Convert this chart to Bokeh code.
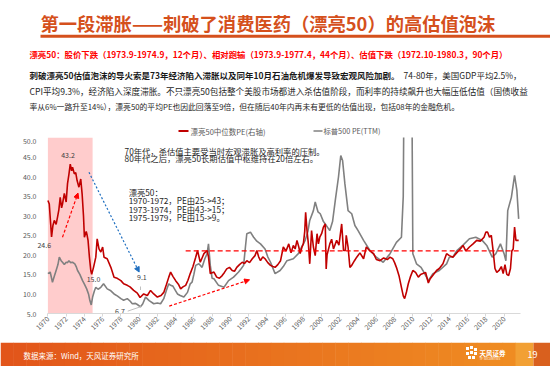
import math
from bokeh.plotting import figure
from bokeh.models import (Range1d, FixedTicker, Arrow, NormalHead,
                          BoxAnnotation, PrintfTickFormatter)
from bokeh.layouts import column
from bokeh.embed import file_html
from bokeh.resources import INLINE
from bokeh.core.properties import value

FONT = "Noto Sans CJK SC"

# ---------------- data ----------------
red_years = [
    1970.0, 1970.15, 1970.3, 1970.4, 1970.55, 1970.7, 1970.9, 1971.05, 1971.2, 1971.35,
    1971.5, 1971.6, 1971.8, 1972.0, 1972.15, 1972.3, 1972.45, 1972.6, 1972.7, 1972.9,
    1973.05, 1973.2, 1973.4, 1973.6, 1973.75, 1973.9, 1974.0, 1974.2, 1974.3, 1974.4,
    1974.55, 1974.7, 1974.8, 1975.0, 1975.25, 1975.4, 1975.6, 1975.8, 1976.0, 1976.15,
    1976.5, 1976.9, 1977.25, 1977.6, 1978.0, 1978.3, 1978.7, 1979.0, 1979.4, 1979.8,
    1980.1, 1980.5, 1980.9, 1981.25, 1981.6, 1982.0, 1982.4, 1982.7, 1983.0, 1983.25,
    1983.45, 1983.7, 1984.0, 1984.3, 1984.55, 1984.8, 1985.1, 1985.35, 1985.6, 1985.9,
    1986.2, 1986.4, 1986.7, 1987.1, 1987.45, 1987.6, 1987.8, 1988.2, 1988.5, 1988.8,
    1989.1, 1989.35, 1989.6, 1989.9, 1990.2, 1990.45, 1990.7, 1991.0, 1991.3, 1991.55,
    1991.8, 1992.1, 1992.4, 1992.7, 1992.9, 1993.1, 1993.3, 1993.55, 1993.8, 1994.1,
    1994.4, 1994.65, 1994.9, 1995.2, 1995.5, 1995.8, 1996.1, 1996.4, 1996.65, 1996.9,
    1997.1, 1997.3, 1997.5, 1997.65, 1997.85, 1998.0, 1998.15, 1998.25, 1998.4, 1998.55,
    1998.7, 1998.8, 1998.9, 1999.1, 1999.3, 1999.5, 1999.65, 1999.8, 2000.0, 2000.2,
    2000.4, 2000.5, 2000.6, 2000.9, 2001.1, 2001.3, 2001.65, 2001.9, 2002.2, 2002.4,
    2002.6, 2002.7, 2002.9, 2003.1, 2003.3, 2003.6, 2003.85, 2004.2, 2004.6, 2004.9,
    2005.3, 2005.7, 2006.0, 2006.4, 2006.8, 2007.2, 2007.5, 2007.8, 2008.0, 2008.2,
    2008.5, 2008.75, 2008.95, 2009.1, 2009.3, 2009.5, 2009.75, 2010.0, 2010.3, 2010.6,
    2010.85, 2011.1, 2011.4, 2011.7, 2011.9, 2012.2, 2012.6, 2012.9, 2013.3, 2013.7,
    2014.0, 2014.4, 2014.8, 2015.2, 2015.5, 2015.8, 2016.2, 2016.6, 2017.0, 2017.4,
    2017.8, 2018.0, 2018.2, 2018.4, 2018.6, 2018.8, 2019.0, 2019.2, 2019.45, 2019.7,
    2019.9, 2020.1, 2020.3, 2020.5, 2020.7, 2020.85, 2021.0, 2021.15, 2021.3, 2021.6,
]
red_pe = [
    33.9, 33.0, 28.0, 24.6, 27.5, 28.8, 27.8, 29.6, 31.5, 34.7,
    32.0, 33.0, 35.7, 33.5, 38.2, 40.5, 43.2, 41.5, 42.4, 40.7,
    41.0, 39.0, 37.3, 39.4, 35.6, 30.0, 24.5, 26.0, 25.0, 23.7,
    19.4, 16.0, 15.0, 16.8, 19.4, 24.1, 21.5, 20.7, 22.0, 19.4,
    19.0, 16.8, 14.3, 14.0, 13.4, 12.6, 12.2, 11.8, 10.9, 10.2,
    9.1, 10.0, 9.6, 10.9, 10.0, 9.2, 9.6, 10.4, 12.5, 14.3,
    15.6, 14.5, 13.4, 12.5, 11.3, 11.8, 12.2, 13.5, 15.2, 17.0,
    19.4, 21.1, 18.1, 20.3, 21.1, 19.5, 15.2, 15.6, 14.3, 14.0,
    14.7, 15.5, 16.4, 16.8, 16.0, 15.8, 16.8, 17.5, 18.1, 17.8,
    18.5, 18.0, 19.0, 19.8, 21.1, 19.5, 18.5, 19.5, 19.0, 18.0,
    17.3, 17.0, 16.8, 17.5, 18.5, 22.0, 21.0, 22.8, 20.5, 22.4,
    21.5, 23.7, 22.0, 20.3, 22.0, 22.8, 26.0, 30.9, 26.2, 22.8,
    17.7, 22.0, 26.2, 22.0, 19.8, 25.4, 22.8, 24.5, 25.4, 27.1,
    27.9, 16.4, 20.0, 22.8, 24.0, 21.5, 23.7, 22.5, 27.9, 21.1,
    21.1, 25.0, 22.0, 16.8, 17.3, 18.5, 19.4, 20.5, 19.0, 22.0,
    21.0, 20.3, 18.8, 18.5, 19.2, 18.8, 19.4, 19.0, 18.0, 16.8,
    14.5, 11.7, 9.5, 8.8, 10.5, 12.6, 14.5, 16.0, 15.5, 14.3,
    15.0, 15.2, 15.5, 12.8, 13.9, 14.8, 16.0, 16.5, 17.7, 20.3,
    19.8, 19.4, 20.5, 21.5, 22.4, 21.0, 22.0, 22.8, 23.7, 23.5,
    24.5, 25.8, 25.8, 24.5, 25.0, 21.0, 16.5, 15.5, 16.0, 17.0,
    15.2, 17.5, 15.0, 14.7, 16.5, 21.0, 21.5, 27.1, 23.7, 23.7,
]

gray_years = [
    1970.0, 1970.25, 1970.5, 1970.7, 1970.9, 1971.1, 1971.25, 1971.45, 1971.6, 1971.8,
    1972.0, 1972.15, 1972.3, 1972.5, 1972.7, 1972.95, 1973.1, 1973.25, 1973.5, 1973.8,
    1974.0, 1974.25, 1974.45, 1974.6, 1974.75, 1974.9, 1975.1, 1975.25, 1975.5, 1975.8,
    1976.1, 1976.5, 1976.9, 1977.25, 1977.6, 1978.0, 1978.3, 1978.7, 1979.0, 1979.25,
    1979.6, 1979.8, 1980.15, 1980.4, 1980.7, 1981.1, 1981.6, 1982.0, 1982.35, 1982.7,
    1983.0, 1983.25, 1983.45, 1983.7, 1984.0, 1984.2, 1984.5, 1984.9, 1985.3, 1985.6,
    1985.8, 1986.0, 1986.2, 1986.55, 1986.9, 1987.2, 1987.45, 1987.6, 1987.8, 1988.0,
    1988.2, 1988.7, 1989.3, 1989.8, 1990.35, 1990.9, 1991.2, 1991.45, 1991.65, 1991.8,
    1992.2, 1992.55, 1992.9, 1993.3, 1993.8, 1994.1, 1994.4, 1994.9, 1995.45, 1995.8,
    1996.2, 1996.9, 1997.45, 1997.8, 1998.2, 1998.5, 1998.7, 1999.1, 1999.3, 1999.6,
    1999.85, 2000.2, 2000.4, 2000.9, 2001.2, 2001.5, 2001.85, 2002.1, 2002.3, 2002.55,
    2002.9, 2003.3, 2003.65, 2004.0, 2004.6, 2005.3, 2006.0, 2006.75, 2007.5, 2008.2,
    2008.75, 2008.95, 2009.05, 2009.3, 2009.6, 2009.9, 2010.0, 2010.4, 2010.9, 2011.1,
    2011.7, 2012.2, 2012.9, 2013.7, 2014.0, 2014.4, 2014.8, 2015.5, 2016.2, 2016.9,
    2017.6, 2018.1, 2018.7, 2019.1, 2019.6, 2020.0, 2020.2, 2020.4, 2020.8, 2021.15,
    2021.4, 2021.6,
]
gray_pe = [
    15.2, 15.6, 13.0, 14.5, 16.0, 17.5, 19.4, 18.5, 18.1, 17.5,
    18.1, 18.0, 18.5, 18.0, 18.1, 17.7, 17.0, 16.0, 15.0, 13.4,
    12.5, 11.3, 10.0, 8.3, 7.2, 9.2, 10.8, 11.7, 11.2, 11.7,
    12.6, 11.3, 10.8, 10.0, 9.5, 8.8, 8.4, 8.8, 8.2, 7.5,
    7.6, 7.3, 6.7, 7.5, 9.2, 8.3, 7.5, 7.7, 7.5, 8.8,
    11.0, 12.6, 12.2, 12.0, 10.8, 10.0, 9.6, 9.2, 10.4, 12.6,
    13.0, 15.0, 17.3, 17.7, 16.8, 19.0, 20.3, 22.8, 17.3, 14.0,
    13.9, 12.2, 11.7, 13.4, 14.3, 15.6, 16.5, 17.3, 22.0, 25.4,
    25.8, 24.5, 23.5, 22.8, 21.5, 19.5, 18.1, 15.2, 16.0, 17.0,
    18.5, 19.0, 20.3, 22.0, 23.7, 26.0, 28.8, 31.3, 33.5, 31.0,
    30.5, 28.5, 27.9, 26.2, 28.5, 33.9, 39.9, 45.4, 44.1, 38.2,
    31.3, 30.5, 27.5, 26.2, 23.7, 21.1, 19.4, 18.1, 20.3, 23.2,
    24.5, 35.0, 70.0, 120.0, 100.0, 60.0, 20.3, 17.7, 16.8, 16.0,
    13.4, 15.2, 16.0, 17.7, 19.4, 19.5, 21.0, 22.5, 24.1, 24.5,
    23.7, 22.4, 19.4, 20.3, 22.8, 20.3, 18.5, 31.3, 34.7, 40.3,
    36.5, 29.2,
]
assert len(red_years) == len(red_pe) and len(gray_years) == len(gray_pe)

median_level = 21.0
median_span = [1985.1, 2021.6]
shade_span = [1970.0, 1974.9]
year_ticks = [1970, 1972, 1974, 1976, 1978, 1980, 1982, 1984, 1986, 1988, 1990,
              1992, 1994, 1996, 1998, 2000, 2002, 2004, 2006, 2008, 2010, 2012,
              2014, 2016, 2018, 2020]
pe_ticks = [5, 10, 15, 20, 25, 30, 35, 40, 45, 50]

TITLE = "第一段滞胀——刺破了消费医药（漂亮50）的高估值泡沫"
SUB = "漂亮50：股价下跌（1973.9-1974.9，12个月）、相对跑输（1973.9-1977.4，44个月）、估值下跌（1972.10-1980.3，90个月）"
P1_BOLD = "刺破漂亮50估值泡沫的导火索是73年经济陷入滞胀以及同年10月石油危机爆发导致宏观风险加剧。"
P1_REST = "74-80年，美国GDP平均2.5%，"
P2 = "CPI平均9.3%，经济陷入深度滞胀。不只漂亮50包括整个美股市场都进入杀估值阶段，而利率的持续飙升也大幅压低估值（国债收益"
P3 = "率从6%一路升至14%），漂亮50的平均PE也因此回落至9倍，但在随后40年内再未有更低的估值出现，包括08年的金融危机。"
LEG_RED = "漂亮50中位数PE(右轴)"
LEG_GRAY = "标普500 PE(TTM)"

W = 550


def blank(height, y0, y1):
    f = figure(width=W, height=height, x_range=Range1d(0, 550), y_range=Range1d(y1, y0),
               output_backend="svg", toolbar_location=None, min_border=0,
               x_axis_location=None, y_axis_location=None, frame_align=False)
    f.outline_line_color = None
    f.grid.visible = False
    f.background_fill_color = "white"
    return f


# ---------------- header (page pixel coords) ----------------
hdr = blank(137, 0, 137)
hdr.text(x=[40], y=[22.5], text=[TITLE], text_font=value(FONT), text_font_size="18.3px",
         text_font_style="bold", text_color="#D5501C", text_baseline="middle")
hdr.quad(left=[40], right=[550], top=[34.3], bottom=[37.3], color="#D5501C", line_color=None)
hdr.text(x=[29], y=[53.3], text=[SUB], text_font=value(FONT), text_font_size="8.4px",
         text_font_style="bold", text_color="#FF0000", text_baseline="middle")
hdr.text(x=[29], y=[74], text=[P1_BOLD], text_font=value(FONT), text_font_size="8.5px",
         text_font_style="bold", text_color="#1a1a1a", text_baseline="middle")
hdr.text(x=[403], y=[74], text=[P1_REST], text_font=value(FONT), text_font_size="8.5px",
         text_color="#262626", text_baseline="middle")
hdr.text(x=[29], y=[90], text=[P2], text_font=value(FONT), text_font_size="8.6px",
         text_color="#262626", text_baseline="middle")
hdr.text(x=[29], y=[105.5], text=[P3], text_font=value(FONT), text_font_size="7.8px",
         text_color="#262626", text_baseline="middle")
# legend
hdr.line(x=[178, 188], y=[130.5, 130.5], line_color="#C00000", line_width=2)
hdr.text(x=[190], y=[130.5], text=[LEG_RED], text_font=value(FONT), text_font_size="7.5px",
         text_color="#595959", text_baseline="middle")
hdr.line(x=[313, 322], y=[130.5, 130.5], line_color="#808080", line_width=1.5)
hdr.text(x=[323], y=[130.5], text=[LEG_GRAY], text_font=value(FONT), text_font_size="7.3px",
         text_color="#595959", text_baseline="middle")

# ---------------- chart ----------------
p = figure(width=W, height=205, x_range=Range1d(1968.75, 2021.8), y_range=Range1d(5, 50),
           output_backend="svg", toolbar_location=None, frame_align=False,
           min_border_left=36, min_border_right=30, min_border_top=0, min_border_bottom=29)
p.outline_line_color = None
p.grid.visible = False

p.add_layout(BoxAnnotation(left=shade_span[0], right=shade_span[1], bottom=5, top=50,
                           fill_color="#FFCCCC", fill_alpha=1.0, line_color=None,
                           level="underlay"))

p.line(gray_years, gray_pe, line_color="#808080", line_width=1.6)
p.line(red_years, red_pe, line_color="#C00000", line_width=1.6)
p.line(median_span, [median_level, median_level], line_color="#FF0000", line_width=1.3,
       line_dash="5 3")

p.xaxis.ticker = FixedTicker(ticks=year_ticks)
p.xaxis.bounds = (1970, 2021.8)
p.xaxis.major_label_orientation = math.pi / 4
p.xaxis.axis_line_color = "#D9D9D9"
p.xaxis.major_tick_line_color = "#D9D9D9"
p.xaxis.major_tick_in = 0
p.xaxis.major_tick_out = 3
p.xaxis.minor_tick_line_color = None
p.xaxis.major_label_standoff = 1
p.yaxis.ticker = FixedTicker(ticks=pe_ticks)
p.yaxis.formatter = PrintfTickFormatter(format="%.1f")
p.yaxis.axis_line_color = None
p.yaxis.major_tick_line_color = None
p.yaxis.minor_tick_line_color = None
p.yaxis.major_tick_out = 0
p.yaxis.major_tick_in = 0
p.yaxis.major_label_standoff = 0
for ax in (p.xaxis, p.yaxis):
    ax.major_label_text_font = FONT
    ax.major_label_text_font_size = "7px"
    ax.major_label_text_color = "#595959"

# arrows
p.add_layout(Arrow(end=NormalHead(size=5, fill_color="#FF0000", line_color="#FF0000"),
                   x_start=1971.6, y_start=24.5, x_end=1973.3, y_end=35.8,
                   line_color="#FF0000", line_width=1.2, line_dash="3 2"))
p.add_layout(Arrow(end=NormalHead(size=5, fill_color="#1F6FC0", line_color="#1F6FC0"),
                   x_start=1974.5, y_start=41.1, x_end=1980.0, y_end=15.6,
                   line_color="#1F6FC0", line_width=1.2, line_dash="2 2"))
p.add_layout(Arrow(end=NormalHead(size=5, fill_color="#FF0000", line_color="#FF0000"),
                   x_start=1983.3, y_start=6.9, x_end=1992.1, y_end=13.6,
                   line_color="#FF0000", line_width=1.2, line_dash="3 2"))

# point value labels
val_x = [1972.2, 1969.6, 1975.0, 1980.3, 1977.9]
val_y = [45.5, 22.4, 13.9, 14.3, 5.6]
val_t = ["43.2", "24.6", "15.0", "9.1", "6.7"]
p.text(x=val_x, y=val_y, text=val_t, text_align="center", text_baseline="middle",
       text_font=value(FONT), text_font_size="7px", text_color="#404040")
p.segment(x0=[1978.75, 1980.15], y0=[5.6, 11.0], x1=[1980.25, 1980.15], y1=[6.8, 11.9],
          line_color="#BFBFBF", line_width=1)

# note texts
note_x = [1978.4, 1978.4, 1978.85, 1978.85, 1978.85, 1978.85]
note_y = [46.6, 44.8, 36.0, 33.9, 31.8, 29.6]
note_t = ["70年代，杀估值主要受当时宏观滞胀及高利率的压制。",
          "80年代之后，漂亮50长期估值中枢维持在20倍左右。",
          "漂亮50：",
          "1970-1972，PE由25->43；",
          "1973-1974，PE由43->15；",
          "1975-1979，PE由15->9。"]
p.text(x=note_x, y=note_y, text=note_t, text_align="left", text_baseline="middle",
       text_font=value(FONT), text_font_size="8.3px", text_color="#262626")

# ---------------- footer ----------------
ftr = blank(24, 342, 366)
n = 40
c0 = (0xE2, 0x55, 0x1A)
c1 = (0xEF, 0x8C, 0x22)
lefts, rights, cols = [], [], []
for i in range(n):
    t = i / (n - 1)
    c = tuple(int(round(a + (b - a) * t)) for a, b in zip(c0, c1))
    lefts.append(515 * i / n)
    rights.append(515 * (i + 1) / n + 0.5)
    cols.append("#%02x%02x%02x" % c)
ftr.quad(left=lefts, right=rights, top=[342] * n, bottom=[366] * n, fill_color=cols,
         line_color=None)
ftr.quad(left=[515], right=[533], top=[342], bottom=[366], fill_color="#F2A034", line_color=None)
ftr.quad(left=[533], right=[550], top=[342], bottom=[366], fill_color="#D9601E", line_color=None)
ftr.text(x=[23], y=[354.5], text=["数据来源：Wind，天风证券研究所"], text_font=value(FONT),
         text_font_size="7.5px", text_color="white", text_baseline="middle")
ftr.text(x=[532], y=[354], text=["19"], text_font=value(FONT), text_font_size="9px",
         text_color="white", text_baseline="middle", text_align="center")
ftr.scatter(x=[467, 471, 475, 467, 471, 475, 469, 473], y=[348, 347, 349, 353, 352, 353, 357, 357],
            size=3, marker="square", fill_color="white", line_color=None)
ftr.text(x=[479], y=[352.5], text=["天风证券"], text_font=value(FONT), text_font_size="6.5px",
         text_font_style="bold", text_color="white", text_baseline="middle")
ftr.text(x=[479], y=[358.5], text=["TF SECURITIES"], text_font=value(FONT), text_font_size="3px",
         text_color="white", text_baseline="middle")

layout = column(hdr, p, ftr, spacing=0)
open("out.html", "w").write(file_html(layout, INLINE))
